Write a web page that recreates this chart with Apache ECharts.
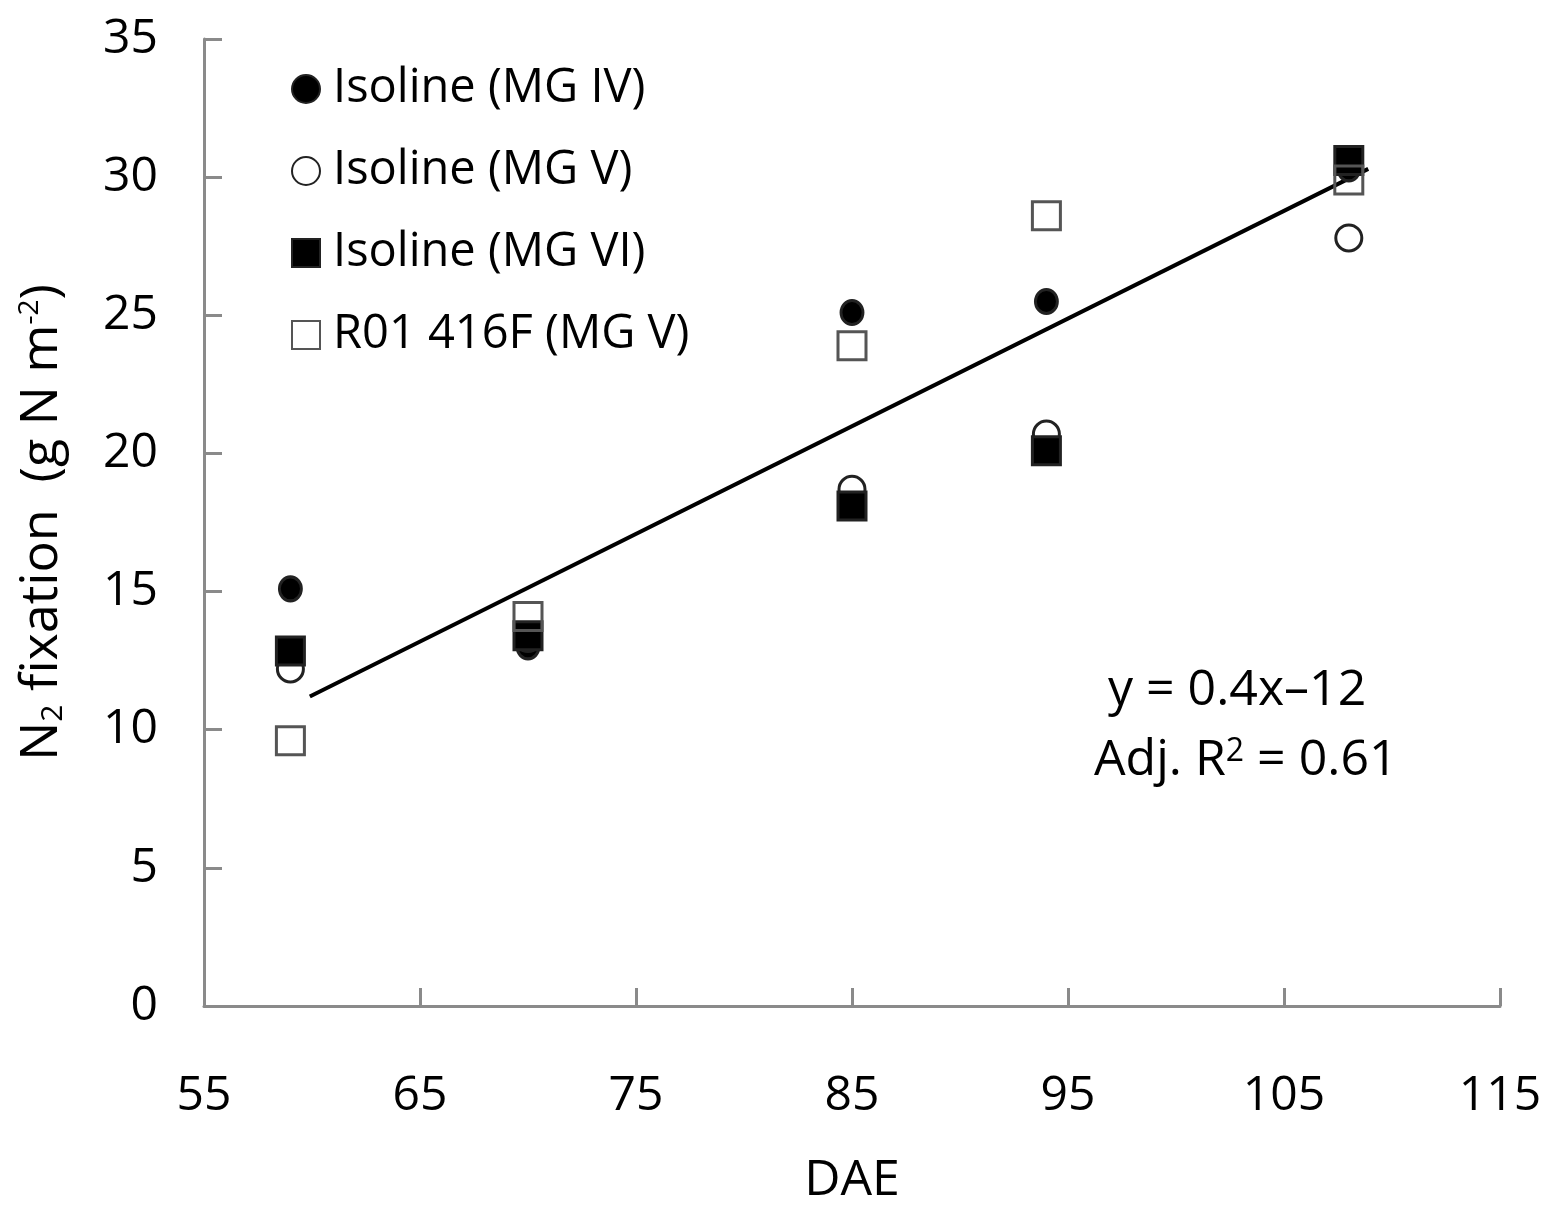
<!DOCTYPE html>
<html>
<head>
<meta charset="utf-8">
<script src="https://cdn.jsdelivr.net/npm/echarts@6/dist/echarts.min.js"></script>
<style>
  html, body { margin: 0; padding: 0; background: #fff; }
  #chart { width: 1556px; height: 1205px; }
</style>
</head>
<body>
<div id="chart"></div>
<script>
// DAE sampling days
const dae = [59, 70, 85, 94, 108];

// N2 fixation (g N m-2)
const mg4 = [15.1, 13.0, 25.1, 25.5, 30.3];
const mg5 = [12.2, 13.3, 18.7, 20.7, 27.8];
const mg6 = [12.85, 13.4, 18.1, 20.1, 30.6];
const r01 = [9.6, 14.1, 23.9, 28.6, 29.9];

// fitted line end points as drawn
const fitX = [59.9, 108.9];
const fitY = [11.2, 30.3];

const seriesNames = ["Isoline (MG IV)", "Isoline (MG V)", "Isoline (MG VI)", "R01 416F (MG V)"];

const pairs = (xs, ys) => xs.map((x, i) => [x, ys[i]]);

const axisGray = "#8a8a8a";
const chart = echarts.init(document.getElementById("chart"));

chart.setOption({
  animation: false,
  backgroundColor: "#fff",
  grid: { left: 204, right: 56, top: 39, bottom: 199, containLabel: false, outerBoundsMode: "none" },
  legend: {
    data: seriesNames,
    orient: "vertical",
    left: 286,
    top: 58,
    itemWidth: 28,
    itemHeight: 28,
    itemGap: 30,
    textStyle: {
      fontFamily: "Open Sans",
      fontSize: 47,
      lineHeight: 52,
      color: "#000",
      padding: [0, 0, 0, 8],
    },
  },
  xAxis: {
    type: "value",
    min: 55,
    max: 115,
    interval: 10,
    name: "DAE",
    nameLocation: "middle",
    nameGap: 150,
    nameTextStyle: { fontFamily: "Open Sans", fontSize: 50, color: "#000" },
    axisLine: { show: true, lineStyle: { color: axisGray, width: 3 } },
    axisTick: { show: true, inside: true, length: 18, lineStyle: { color: axisGray, width: 3 } },
    axisLabel: { margin: 66, fontFamily: "Open Sans", fontSize: 48, color: "#000" },
    splitLine: { show: false },
  },
  yAxis: {
    type: "value",
    min: 0,
    max: 35,
    interval: 5,
    name: "N{sub|2} fixation  (g N m{sup|-2})",
    nameLocation: "middle",
    nameGap: 136,
    nameRotate: 90,
    nameTextStyle: {
      fontFamily: "Open Sans",
      fontSize: 52,
      color: "#000",
      rich: {
        sub: { fontFamily: "Open Sans", fontSize: 30, verticalAlign: "bottom", padding: [22, 0, 0, 0] },
        sup: { fontFamily: "Open Sans", fontSize: 28, verticalAlign: "top", padding: [0, 0, 22, 0] },
      },
    },
    axisLine: { show: true, lineStyle: { color: axisGray, width: 3 } },
    axisTick: { show: true, inside: true, length: 18, lineStyle: { color: axisGray, width: 3 } },
    axisLabel: { margin: 46, fontFamily: "Open Sans", fontSize: 48, color: "#000" },
    splitLine: { show: false },
  },
  graphic: [
    {
      type: "text",
      left: 1108,
      top: 666,
      style: { text: "y = 0.4x\u201312", fontFamily: "Open Sans", fontSize: 50, fill: "#000" },
    },
    {
      type: "text",
      left: 1094,
      top: 736,
      style: {
        text: "Adj. R{sup|2} = 0.61",
        fontFamily: "Open Sans",
        fontSize: 50,
        fill: "#000",
        rich: { sup: { fontFamily: "Open Sans", fontSize: 32, verticalAlign: "top", padding: [0, 0, 16, 0] } },
      },
    },
  ],
  series: [
    {
      name: "fit",
      type: "line",
      data: pairs(fitX, fitY),
      symbol: "none",
      lineStyle: { color: "#000", width: 4 },
      z: 1,
    },
    {
      name: seriesNames[0],
      type: "scatter",
      data: pairs(dae, mg4),
      symbol: "circle",
      symbolSize: [22, 24],
      itemStyle: { color: "#000", borderColor: "#222", borderWidth: 3, opacity: 1 },
      z: 2,
    },
    {
      name: seriesNames[1],
      type: "scatter",
      data: pairs(dae, mg5),
      symbol: "circle",
      symbolSize: 26,
      itemStyle: { color: "#fff", borderColor: "#222", borderWidth: 3, opacity: 1 },
      z: 3,
    },
    {
      name: seriesNames[2],
      type: "scatter",
      data: pairs(dae, mg6),
      symbol: "rect",
      symbolSize: 28,
      itemStyle: { color: "#000", borderColor: "#222", borderWidth: 3, opacity: 1 },
      z: 4,
    },
    {
      name: seriesNames[3],
      type: "scatter",
      data: pairs(dae, r01),
      symbol: "rect",
      symbolSize: 28,
      itemStyle: { color: "rgba(255,255,255,0)", borderColor: "#555", borderWidth: 3, opacity: 1 },
      z: 5,
    },
  ],
});
</script>
</body>
</html>
